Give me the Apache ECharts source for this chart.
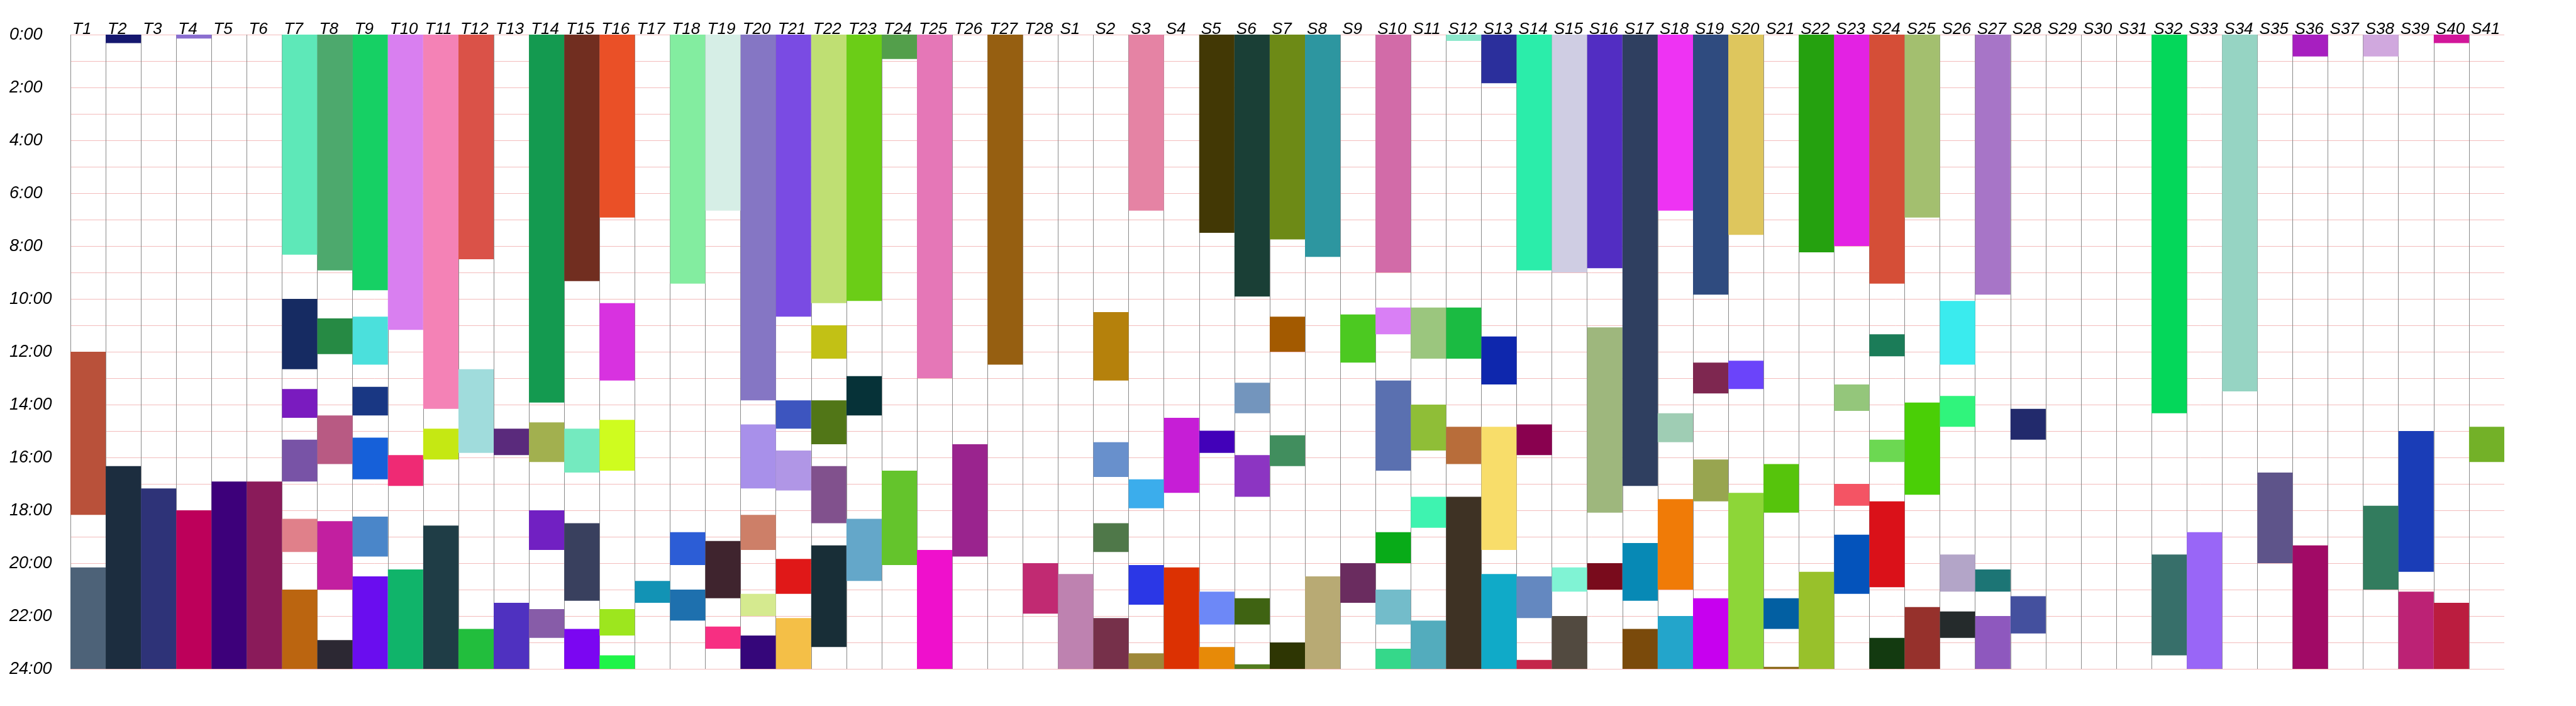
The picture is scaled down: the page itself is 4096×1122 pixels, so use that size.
<!DOCTYPE html>
<html>
<head>
<meta charset="utf-8">
<script src="https://cdn.jsdelivr.net/npm/echarts@6/dist/echarts.min.js"></script>
<style>
html,body{margin:0;padding:0;background:#fff;}
#chart{width:4096px;height:1122px;}
</style>
</head>
<body>
<div id="chart"></div>
<script>
// Columns
const categories = [
  'T1','T2','T3','T4','T5','T6','T7','T8','T9','T10','T11','T12','T13','T14','T15','T16','T17','T18','T19','T20',
  'T21','T22','T23','T24','T25','T26','T27','T28',
  'S1','S2','S3','S4','S5','S6','S7','S8','S9','S10','S11','S12','S13','S14','S15','S16','S17','S18','S19','S20',
  'S21','S22','S23','S24','S25','S26','S27','S28','S29','S30','S31','S32','S33','S34','S35','S36','S37','S38','S39','S40','S41'
];

// Hour tick labels (every 2 hours shown)
const hourLabels = ['0:00','2:00','4:00','6:00','8:00','10:00','12:00','14:00','16:00','18:00','20:00','22:00','24:00'];

// Intervals: [column, start hour, end hour]
const intervals = [
  ['T1',12.0,18.17],['T1',20.16,24],
  ['T2',0,0.32],['T2',16.33,24],
  ['T3',17.17,24],
  ['T4',0,0.15],['T4',18.0,24],
  ['T5',16.91,24],
  ['T6',16.91,24],
  ['T7',0,8.33],['T7',10.0,12.66],['T7',13.41,14.5],['T7',15.33,16.91],['T7',18.32,19.58],['T7',21.0,24],
  ['T8',0,8.92],['T8',10.74,12.09],['T8',14.41,16.25],['T8',18.41,21.0],['T8',22.91,24],
  ['T9',0,9.67],['T9',10.67,12.49],['T9',13.33,14.41],['T9',15.25,16.83],['T9',18.24,19.75],['T9',20.5,24],
  ['T10',0,11.17],['T10',15.91,17.08],['T10',20.24,24],
  ['T11',0,14.16],['T11',14.91,16.08],['T11',18.58,24],
  ['T12',0,8.5],['T12',12.66,15.83],['T12',22.49,24],
  ['T13',14.91,15.91],['T13',21.5,24],
  ['T14',0,13.92],['T14',14.67,16.17],['T14',18.0,19.5],['T14',21.74,22.83],
  ['T15',0,9.33],['T15',14.91,16.57],['T15',18.49,21.42],['T15',22.49,24],
  ['T16',0,6.92],['T16',10.16,13.09],['T16',14.58,16.5],['T16',21.74,22.74],['T16',23.49,24],
  ['T17',20.67,21.5],
  ['T18',0,9.42],['T18',18.83,20.07],['T18',21.0,22.17],
  ['T19',0,6.66],['T19',19.16,21.33],['T19',22.4,23.24],
  ['T20',0,13.84],['T20',14.75,17.17],['T20',18.17,19.5],['T20',21.16,22.0],['T20',22.74,24],
  ['T21',0,10.67],['T21',13.84,14.91],['T21',15.74,17.25],['T21',19.84,21.16],['T21',22.08,24],
  ['T22',0,10.16],['T22',11.0,12.26],['T22',13.84,15.5],['T22',16.33,18.49],['T22',19.33,23.17],
  ['T23',0,10.08],['T23',12.92,14.41],['T23',18.32,20.67],
  ['T24',0,0.92],['T24',16.5,20.07],
  ['T25',0,13.0],['T25',19.5,24],
  ['T26',15.5,19.75],
  ['T27',0,12.49],
  ['T28',20.0,21.91],
  ['S1',20.41,24],
  ['S2',10.5,13.09],['S2',15.42,16.74],['S2',18.49,19.58],['S2',22.08,24],
  ['S3',0,6.66],['S3',16.83,17.92],['S3',20.07,21.57],['S3',23.41,24],
  ['S4',14.5,17.34],['S4',20.16,24],
  ['S5',0,7.5],['S5',14.99,15.83],['S5',21.08,22.32],['S5',23.17,24],
  ['S6',0,9.91],['S6',13.17,14.33],['S6',15.91,17.49],['S6',21.33,22.32],['S6',23.83,24],
  ['S7',0,7.75],['S7',10.67,12.0],['S7',15.16,16.33],['S7',23.0,24],
  ['S8',0,8.41],['S8',20.5,24],
  ['S9',10.59,12.41],['S9',20.0,21.5],
  ['S10',0,9.0],['S10',10.33,11.34],['S10',13.09,16.5],['S10',18.83,20.0],['S10',21.0,22.32],['S10',23.24,24],
  ['S11',10.33,12.26],['S11',14.0,15.74],['S11',17.49,18.66],['S11',22.17,24],
  ['S12',0,0.24],['S12',10.33,12.26],['S12',14.84,16.25],['S12',17.49,24],
  ['S13',0,1.84],['S13',11.42,13.24],['S13',14.84,19.5],['S13',20.41,24],
  ['S14',0,8.92],['S14',14.75,15.91],['S14',20.5,22.08],['S14',23.66,24],
  ['S15',0,9.0],['S15',20.16,21.08],['S15',22.0,24],
  ['S16',0,8.84],['S16',11.08,18.09],['S16',20.0,21.0],
  ['S17',0,17.08],['S17',19.24,21.42],['S17',22.49,24],
  ['S18',0,6.66],['S18',14.33,15.42],['S18',17.58,21.0],['S18',22.0,24],
  ['S19',0,9.84],['S19',12.41,13.58],['S19',16.08,17.66],['S19',21.33,24],
  ['S20',0,7.58],['S20',12.34,13.41],['S20',17.34,24],
  ['S21',16.25,18.09],['S21',21.33,22.49],['S21',23.92,24],
  ['S22',0,8.24],['S22',20.33,24],
  ['S23',0,8.0],['S23',13.24,14.24],['S23',17.0,17.83],['S23',18.92,21.16],
  ['S24',0,9.42],['S24',11.34,12.17],['S24',15.33,16.17],['S24',17.66,20.91],['S24',22.83,24],
  ['S25',0,6.92],['S25',13.92,17.41],['S25',21.66,24],
  ['S26',10.08,12.49],['S26',13.67,14.84],['S26',19.67,21.08],['S26',21.83,22.83],
  ['S27',0,9.84],['S27',20.24,21.08],['S27',22.0,24],
  ['S28',14.16,15.33],['S28',21.25,22.66],
  ['S32',0,14.33],['S32',19.67,23.49],
  ['S33',18.83,24],
  ['S34',0,13.5],
  ['S35',16.57,20.0],
  ['S36',0,0.83],['S36',19.33,24],
  ['S38',0,0.83],['S38',17.83,21.0],
  ['S39',15.0,20.33],['S39',21.08,24],
  ['S40',0,0.32],['S40',21.5,24],
  ['S41',14.84,16.17]
];

// Colours, one per interval, same order as above
const intervalColors = [
  '#b9513a','#4d6278',
  '#15176f','#1c2d3f',
  '#2e3378',
  '#8b6fd0','#bd005a',
  '#3d007a',
  '#8a1b5a',
  '#5ee8b8','#162b62','#7a1bbf','#7853a6','#e0808a','#bb6510',
  '#4da96d','#268a44','#b85a83','#c21fa0','#2c2833',
  '#16d064','#4be0dc','#193783','#1660d9','#4a86c9','#6a0def',
  '#d97ff0','#ef2a74','#10b46a',
  '#f482b6','#c5e813','#1f3d46',
  '#da5248','#a0dcdc','#22be3d',
  '#5a2a7c','#4f31c0',
  '#149a50','#a2b04f','#7120c2','#875ca8',
  '#712e20','#74eabf','#39405e','#7b06f2',
  '#ea5027','#d832e0','#cffc1f','#9de61e','#1ff448',
  '#1293b5',
  '#83eda0','#2c5dd6','#1e70ae',
  '#d6eee6','#3f242e','#f72f82',
  '#8576c4','#a890ea','#cd7f68','#d5ea8f','#35067a',
  '#7a4be3','#3d55bf','#b096e6','#e01818','#f4bf47',
  '#bfdf73','#c2c115','#517617','#81518d','#182e37',
  '#6bcd17','#063238','#64a7c9',
  '#539f4b','#64c42c',
  '#e577b7','#ef10cc',
  '#9a248e',
  '#965f11',
  '#c12a72',
  '#be82b0',
  '#b5810c','#6890cc','#4f7849','#76304a',
  '#e583a4','#3badec','#2b37e6','#9e8839',
  '#c61ed6','#dc3102',
  '#423805','#4201b9','#6d88f7','#e78a08',
  '#1a3f36','#7395bd','#8c35c2','#3f6312','#527c1e',
  '#6d8a16','#a35a00','#418e5e','#2e3603',
  '#2d96a0','#b8aa74',
  '#4cc921','#6a2c5f',
  '#d26ba8','#d97ff5','#5a70b0','#08ab18','#73bcca','#35d88a',
  '#9bc67e','#8fbe37','#3ef3b0','#53acbd',
  '#8ce8cc','#1bbb42','#b86d3a','#3e3224',
  '#2b2f9c','#0e27ad','#f8dd6a','#10aac8',
  '#2bedaa','#89014f','#6488c0','#c4264a',
  '#cfcde3','#80f3d4','#524a40',
  '#522dc2','#9eb77d','#790b1c',
  '#2f3f60','#0789b5','#7a4a0b',
  '#ee33f3','#9fcdb4','#f07b07','#23a5cb',
  '#2f4b7f','#7e2750','#98a550','#c700ef',
  '#dec65d','#6b44fa','#8dd638',
  '#56c40c','#025fa2','#8a6a18',
  '#25a10f','#98c12b',
  '#e322e3','#94c67b','#f45464','#0453bb',
  '#d54e37','#1b7c58','#6cd852','#da1119','#133a10',
  '#a3bf6f','#4acf06','#96312c',
  '#3aebee','#30f47c','#b3a5c8','#252b2c',
  '#a775c7','#1c7575','#8e58be',
  '#222a6c','#44509e',
  '#04d75a','#376f6a',
  '#9966f7',
  '#96d4c3',
  '#5e548a',
  '#a71fc0','#a10a66',
  '#d0a8de','#327c5e',
  '#1a3db7','#bc2275',
  '#d2169a','#bb1d3f',
  '#73b128'
];

const seriesData = intervals.map(function (d, i) {
  return {
    value: [categories.indexOf(d[0]), d[1], d[2]],
    itemStyle: { color: intervalColors[i] }
  };
});

const chart = echarts.init(document.getElementById('chart'), null, { renderer: 'canvas' });

const labelFont = { fontFamily: 'Liberation Sans, Arial, sans-serif', fontStyle: 'italic', color: '#000' };

chart.setOption({
  animation: false,
  backgroundColor: '#ffffff',
  grid: { left: 112, right: 114, top: 55, bottom: 59, containLabel: false },
  xAxis: [
    {
      type: 'category',
      data: categories,
      boundaryGap: true,
      show: false
    },
    {
      type: 'category',
      data: categories.concat(['']),
      boundaryGap: false,
      position: 'top',
      axisLine: { show: false },
      axisTick: { show: false },
      axisLabel: Object.assign({
        interval: 0,
        align: 'left',
        verticalAlign: 'bottom',
        fontSize: 26,
        margin: -5,
        padding: [0, 0, 0, 3]
      }, labelFont),
      splitLine: {
        show: true,
        interval: function (index) { return index < categories.length; },
        lineStyle: { color: '#8a8a8a', width: 1 }
      }
    }
  ],
  yAxis: {
    type: 'value',
    inverse: true,
    min: 0,
    max: 24,
    interval: 1,
    axisLine: { show: false },
    axisTick: { show: false },
    axisLabel: Object.assign({
      fontSize: 27,
      align: 'left',
      margin: 97,
      formatter: function (v) {
        return v % 2 === 0 ? hourLabels[v / 2] : '';
      }
    }, labelFont),
    splitLine: { show: true, lineStyle: { color: '#f3bcbc', width: 1 } }
  },
  series: [{
    type: 'custom',
    xAxisIndex: 0,
    yAxisIndex: 0,
    encode: { x: 0, y: [1, 2] },
    renderItem: function (params, api) {
      const c = api.value(0);
      const p0 = api.coord([c, api.value(1)]);
      const p1 = api.coord([c, api.value(2)]);
      const w = api.size([1, 0])[0];
      return {
        type: 'rect',
        shape: { x: p0[0] - w / 2, y: p0[1], width: w, height: p1[1] - p0[1] },
        style: { fill: api.visual('color') }
      };
    },
    data: seriesData
  }]
});
</script>
</body>
</html>
